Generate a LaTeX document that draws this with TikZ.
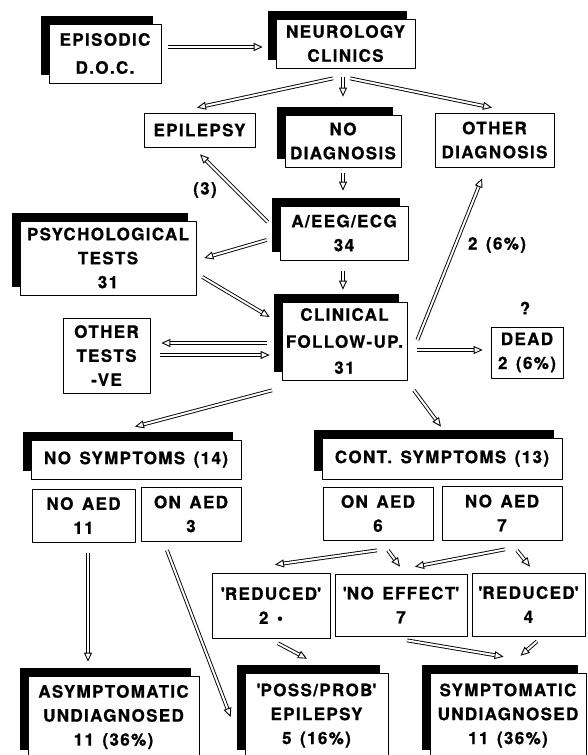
\documentclass[tikz,border=0pt]{standalone}
\usepackage{fontspec}
\newfontfamily\boxfont{TeX Gyre Heros}[LetterSpace=8, WordSpace=1.4, FakeBold=0.8]
\usetikzlibrary{arrows.meta,shadows}
\begin{document}
\begin{tikzpicture}[x=1pt, y=-1pt, line join=round,
 font=\boxfont\bfseries\fontsize{17}{24}\selectfont,
 box/.style={draw, line width=0.7pt, fill=white, inner sep=0pt, align=center},
 sbox/.style={box, general shadow={fill=black, shadow xshift=-8pt, shadow yshift=8pt}},
 sz/.style 2 args={minimum width=#1pt, minimum height=#2pt},
 darrow/.style={double, double distance=2pt, line width=0.9pt, -{Triangle[open, length=9pt, width=8pt]}}]
 \useasboundingbox (0,0) rectangle (587,755);
 % top row
 \node[sbox, sz={112}{59}] (episodic) at (105,53.5) {EPISODIC\\[4pt]D.O.C.};
 \node[sbox, sz={139}{49}] (neuro) at (345.5,43.5) {NEUROLOGY\\CLINICS};
 \node[box, sz={111}{34}] (epil) at (199.5,130) {EPILEPSY};
 \node[sbox, sz={116}{52}] (nodiag) at (343,141) {NO\\DIAGNOSIS};
 \node[box, sz={119}{54}] (othdiag) at (494.5,140) {OTHER\\DIAGNOSIS};
 % investigations
 \node[sbox, sz={128}{54}] (aeeg) at (344,233) {A/EEG/ECG\\34};
 \node[sbox, sz={176}{74}] (psych) at (108,258) {PSYCHOLOGICAL\\TESTS\\31};
 \node[sbox, sz={125}{78}] (clin) at (344.5,341) {CLINICAL\\[3pt]FOLLOW-UP.\\[2pt]31};
 \node[box, sz={87}{75}] (othtests) at (106.5,355.5) {OTHER\\TESTS\\-VE};
 \node[box, sz={72}{51}] (dead) at (527,352.5) {DEAD\\2 (6\%)};
 \node (lbl3) at (205,190) {(3)};
 \node (lbl6) at (497,245) {2 (6\%)};
 \node (lblq) at (525,308) {?};
 % outcome groups
 \node[sbox, sz={210}{39}] (nosym) at (136,459.5) {NO SYMPTOMS (14)};
 \node[box, sz={103}{53}] (noaedA) at (83.5,515.5) {NO AED\\11};
 \node[box, sz={100}{54}] (onaedA) at (191,514) {ON AED\\3};
 \node[sbox, sz={240}{41}] (contsym) at (442,458.5) {CONT. SYMPTOMS (13)};
 \node[box, sz={110}{53}] (onaedB) at (378,513.5) {ON AED\\6};
 \node[box, sz={120}{54}] (noaedB) at (502,513) {NO AED\\7};
 \node[box, sz={118}{65}] (redA) at (271,605.5) {\textquotesingle REDUCED\textquotesingle\\2 •};
 \node[box, sz={132}{62}] (noeff) at (401,605) {\textquotesingle NO EFFECT\textquotesingle\\7};
 \node[box, sz={113}{63}] (redB) at (528.5,604.5) {\textquotesingle REDUCED\textquotesingle\\4};
 % final categories
 \node[sbox, sz={171}{82}] (asym) at (113.5,717) {ASYMPTOMATIC\\UNDIAGNOSED\\11 (36\%)};
 \node[sbox, sz={143}{85}] (poss) at (316.5,715.5) {\textquotesingle POSS/PROB\textquotesingle\\EPILEPSY\\5 (16\%)};
 \node[sbox, sz={156}{85}] (symp) at (508,715.5) {SYMPTOMATIC\\UNDIAGNOSED\\11 (36\%)};
 % connectors
 \draw[darrow] ([shift={(7,-6.5)}]episodic.east) -- ([shift={(-13,3.5)}]neuro.west);
 \draw[darrow] ([shift={(-12.5,10)}]neuro.south) -- ([shift={(-2.5,-5)}]epil.north);
 \draw[darrow] ([shift={(-2.5,9)}]neuro.south) -- ([shift={(0,-18)}]nodiag.north);
 \draw[darrow] ([shift={(4.5,10)}]neuro.south) -- ([shift={(-2.5,-5)}]othdiag.north);
 \draw[darrow] ([shift={(0,6)}]nodiag.south) -- ([shift={(-1,-15)}]aeeg.north);
 \draw[darrow] ([shift={(-12,-11)}]aeeg.west) -- ([shift={(0.5,7)}]epil.south);
 \draw[darrow] ([shift={(-13,7)}]aeeg.west) -- ([shift={(8,0)}]psych.east);
 \draw[darrow] ([shift={(-1,11)}]aeeg.south) -- ([shift={(-1.5,-12)}]clin.north);
 \draw[darrow] ([shift={(6,19)}]psych.east) -- ([shift={(-12,-24)}]clin.west);
 \draw[darrow] ([shift={(-15,2)}]clin.west) -- ([shift={(11,-12.5)}]othtests.east);
 \draw[darrow] ([shift={(10,-0.5)}]othtests.east) -- ([shift={(-12,14)}]clin.west);
 \draw[darrow] ([shift={(10,-1)}]clin.east) -- ([shift={(-12.5,11)}]othdiag.south);
 \draw[darrow] ([shift={(10,9)}]clin.east) -- ([shift={(-8,-2.5)}]dead.west);
 \draw[darrow] ([shift={(-72.5,10)}]clin.south) -- ([shift={(-1,-13)}]nosym.north);
 \draw[darrow] ([shift={(69.5,10)}]clin.south) -- ([shift={(-1,-11)}]contsym.north);
 \draw[darrow] ([shift={(4.5,11)}]noaedA.south) -- ([shift={(-25.5,-14)}]asym.north);
 \draw[darrow] ([shift={(-24,9)}]onaedA.south) -- ([shift={(-14,1.5)}]poss.west);
 \draw[darrow] ([shift={(-1,10)}]onaedB.south) -- ([shift={(4,-8)}]redA.north);
 \draw[darrow] ([shift={(10,10)}]onaedB.south) -- ([shift={(-1,-7)}]noeff.north);
 \draw[darrow] ([shift={(3,9)}]noaedB.south) -- ([shift={(14,-7)}]noeff.north);
 \draw[darrow] ([shift={(15,10)}]noaedB.south) -- ([shift={(1.5,-6)}]redB.north);
 \draw[darrow] ([shift={(7,5)}]redA.south) -- ([shift={(-9.5,-14)}]poss.north);
 \draw[darrow] ([shift={(6,4)}]noeff.south) -- ([shift={(-4.5,-16)}]symp.north);
 \draw[darrow] ([shift={(8.5,5)}]redB.south) -- ([shift={(12.5,-17)}]symp.north);
\end{tikzpicture}
\end{document}
